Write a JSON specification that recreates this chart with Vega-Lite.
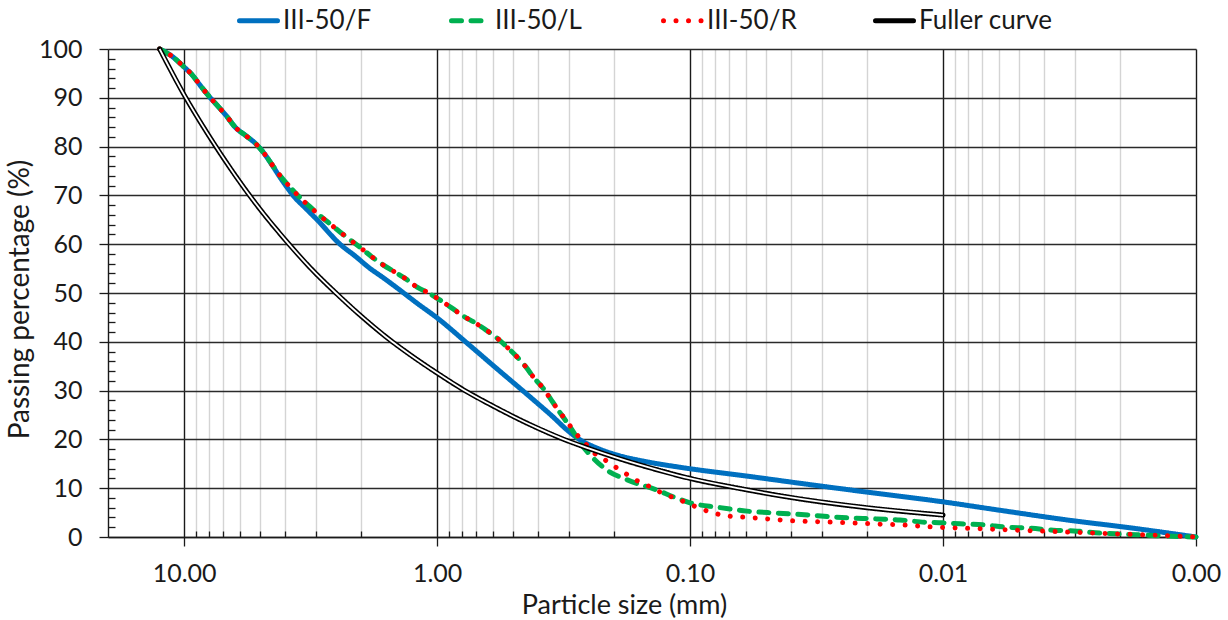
{
  "$schema": "https://vega.github.io/schema/vega-lite/v6.json",
  "width": 1088,
  "height": 488,
  "autosize": {"type": "none"},
  "padding": {"left": 108, "top": 49, "right": 32, "bottom": 83},
  "background": "white",
  "config": {"view": {"stroke": null}, "font": "Lato"},
  "datasets": {
    "curves": [
      {"s": "III-50/F", "d": 12.5, "p": 100}, {"s": "III-50/F", "d": 11.1, "p": 98.4}, {"s": "III-50/F", "d": 10.1, "p": 96.5}, {"s": "III-50/F", "d": 9.3, "p": 94.7}, {"s": "III-50/F", "d": 8.6, "p": 92.4}, {"s": "III-50/F", "d": 8.0, "p": 90.4}, {"s": "III-50/F", "d": 7.3, "p": 88.1}, {"s": "III-50/F", "d": 6.76, "p": 86.1}, {"s": "III-50/F", "d": 6.29, "p": 84.0}, {"s": "III-50/F", "d": 5.69, "p": 82.2}, {"s": "III-50/F", "d": 5.19, "p": 80.5}, {"s": "III-50/F", "d": 4.78, "p": 78.3}, {"s": "III-50/F", "d": 4.45, "p": 75.9}, {"s": "III-50/F", "d": 4.14, "p": 73.4}, {"s": "III-50/F", "d": 3.9, "p": 71.5}, {"s": "III-50/F", "d": 3.71, "p": 70.0}, {"s": "III-50/F", "d": 3.3, "p": 67.3}, {"s": "III-50/F", "d": 2.98, "p": 65.0}, {"s": "III-50/F", "d": 2.42, "p": 60.0}, {"s": "III-50/F", "d": 2.1, "p": 57.5}, {"s": "III-50/F", "d": 1.87, "p": 55.3}, {"s": "III-50/F", "d": 1.62, "p": 53.0}, {"s": "III-50/F", "d": 1.42, "p": 50.8}, {"s": "III-50/F", "d": 1.2, "p": 47.9}, {"s": "III-50/F", "d": 1.0, "p": 44.9}, {"s": "III-50/F", "d": 0.76, "p": 39.7}, {"s": "III-50/F", "d": 0.59, "p": 34.8}, {"s": "III-50/F", "d": 0.429, "p": 28.7}, {"s": "III-50/F", "d": 0.348, "p": 24.6}, {"s": "III-50/F", "d": 0.306, "p": 21.9}, {"s": "III-50/F", "d": 0.272, "p": 19.9}, {"s": "III-50/F", "d": 0.233, "p": 18.2}, {"s": "III-50/F", "d": 0.189, "p": 16.6}, {"s": "III-50/F", "d": 0.148, "p": 15.4}, {"s": "III-50/F", "d": 0.11, "p": 14.3}, {"s": "III-50/F", "d": 0.058, "p": 12.4}, {"s": "III-50/F", "d": 0.0367, "p": 11.0}, {"s": "III-50/F", "d": 0.02, "p": 9.2}, {"s": "III-50/F", "d": 0.01, "p": 7.2}, {"s": "III-50/F", "d": 0.006, "p": 5.5}, {"s": "III-50/F", "d": 0.00324, "p": 3.5}, {"s": "III-50/F", "d": 0.00177, "p": 1.8}, {"s": "III-50/F", "d": 0.001, "p": 0},

      {"s": "III-50/L", "d": 12.5, "p": 100}, {"s": "III-50/L", "d": 11.1, "p": 98.4}, {"s": "III-50/L", "d": 10.1, "p": 96.5}, {"s": "III-50/L", "d": 9.3, "p": 94.7}, {"s": "III-50/L", "d": 8.6, "p": 92.4}, {"s": "III-50/L", "d": 8.0, "p": 90.4}, {"s": "III-50/L", "d": 7.3, "p": 88.1}, {"s": "III-50/L", "d": 6.76, "p": 86.1}, {"s": "III-50/L", "d": 6.29, "p": 84.0}, {"s": "III-50/L", "d": 5.69, "p": 82.2}, {"s": "III-50/L", "d": 5.19, "p": 80.5}, {"s": "III-50/L", "d": 4.78, "p": 78.3}, {"s": "III-50/L", "d": 4.45, "p": 76.0}, {"s": "III-50/L", "d": 4.14, "p": 73.8}, {"s": "III-50/L", "d": 3.81, "p": 71.7}, {"s": "III-50/L", "d": 3.51, "p": 69.7}, {"s": "III-50/L", "d": 3.2, "p": 67.8}, {"s": "III-50/L", "d": 2.93, "p": 66.0}, {"s": "III-50/L", "d": 2.67, "p": 64.3}, {"s": "III-50/L", "d": 2.42, "p": 62.5}, {"s": "III-50/L", "d": 2.21, "p": 60.9}, {"s": "III-50/L", "d": 2.0, "p": 59.2}, {"s": "III-50/L", "d": 1.81, "p": 57.4}, {"s": "III-50/L", "d": 1.63, "p": 55.7}, {"s": "III-50/L", "d": 1.47, "p": 54.3}, {"s": "III-50/L", "d": 1.33, "p": 52.9}, {"s": "III-50/L", "d": 1.2, "p": 51.2}, {"s": "III-50/L", "d": 1.08, "p": 50.0}, {"s": "III-50/L", "d": 0.964, "p": 48.4}, {"s": "III-50/L", "d": 0.873, "p": 46.9}, {"s": "III-50/L", "d": 0.79, "p": 45.3}, {"s": "III-50/L", "d": 0.708, "p": 43.9}, {"s": "III-50/L", "d": 0.64, "p": 42.4}, {"s": "III-50/L", "d": 0.58, "p": 40.8}, {"s": "III-50/L", "d": 0.529, "p": 38.9}, {"s": "III-50/L", "d": 0.483, "p": 36.9}, {"s": "III-50/L", "d": 0.445, "p": 34.8}, {"s": "III-50/L", "d": 0.414, "p": 32.6}, {"s": "III-50/L", "d": 0.381, "p": 30.5}, {"s": "III-50/L", "d": 0.354, "p": 28.1}, {"s": "III-50/L", "d": 0.33, "p": 25.8}, {"s": "III-50/L", "d": 0.306, "p": 23.4}, {"s": "III-50/L", "d": 0.285, "p": 21.0}, {"s": "III-50/L", "d": 0.272, "p": 19.3}, {"s": "III-50/L", "d": 0.248, "p": 16.8}, {"s": "III-50/L", "d": 0.213, "p": 13.7}, {"s": "III-50/L", "d": 0.177, "p": 11.7}, {"s": "III-50/L", "d": 0.135, "p": 9.6}, {"s": "III-50/L", "d": 0.116, "p": 8.2}, {"s": "III-50/L", "d": 0.1, "p": 7.0}, {"s": "III-50/L", "d": 0.078, "p": 6.1}, {"s": "III-50/L", "d": 0.0596, "p": 5.3}, {"s": "III-50/L", "d": 0.0453, "p": 4.9}, {"s": "III-50/L", "d": 0.0336, "p": 4.5}, {"s": "III-50/L", "d": 0.0272, "p": 4.1}, {"s": "III-50/L", "d": 0.0182, "p": 3.7}, {"s": "III-50/L", "d": 0.0148, "p": 3.5}, {"s": "III-50/L", "d": 0.0123, "p": 3.1}, {"s": "III-50/L", "d": 0.01, "p": 2.9}, {"s": "III-50/L", "d": 0.00857, "p": 2.7}, {"s": "III-50/L", "d": 0.00695, "p": 2.5}, {"s": "III-50/L", "d": 0.00559, "p": 2.0}, {"s": "III-50/L", "d": 0.00453, "p": 1.8}, {"s": "III-50/L", "d": 0.00367, "p": 1.4}, {"s": "III-50/L", "d": 0.00295, "p": 1.2}, {"s": "III-50/L", "d": 0.00239, "p": 0.8}, {"s": "III-50/L", "d": 0.002, "p": 0.6}, {"s": "III-50/L", "d": 0.00162, "p": 0.4}, {"s": "III-50/L", "d": 0.0013, "p": 0.2}, {"s": "III-50/L", "d": 0.001, "p": 0},

      {"s": "III-50/R", "d": 12.5, "p": 100}, {"s": "III-50/R", "d": 11.1, "p": 98.4}, {"s": "III-50/R", "d": 10.1, "p": 96.5}, {"s": "III-50/R", "d": 9.3, "p": 94.7}, {"s": "III-50/R", "d": 8.6, "p": 92.4}, {"s": "III-50/R", "d": 8.0, "p": 90.4}, {"s": "III-50/R", "d": 7.3, "p": 88.1}, {"s": "III-50/R", "d": 6.76, "p": 86.1}, {"s": "III-50/R", "d": 6.29, "p": 84.0}, {"s": "III-50/R", "d": 5.69, "p": 82.2}, {"s": "III-50/R", "d": 5.19, "p": 80.5}, {"s": "III-50/R", "d": 4.78, "p": 78.3}, {"s": "III-50/R", "d": 4.45, "p": 76.0}, {"s": "III-50/R", "d": 4.14, "p": 73.8}, {"s": "III-50/R", "d": 3.81, "p": 71.7}, {"s": "III-50/R", "d": 3.51, "p": 69.7}, {"s": "III-50/R", "d": 3.2, "p": 67.8}, {"s": "III-50/R", "d": 2.93, "p": 66.0}, {"s": "III-50/R", "d": 2.67, "p": 64.3}, {"s": "III-50/R", "d": 2.42, "p": 62.5}, {"s": "III-50/R", "d": 2.21, "p": 60.9}, {"s": "III-50/R", "d": 2.0, "p": 59.2}, {"s": "III-50/R", "d": 1.81, "p": 57.4}, {"s": "III-50/R", "d": 1.63, "p": 55.7}, {"s": "III-50/R", "d": 1.47, "p": 54.3}, {"s": "III-50/R", "d": 1.33, "p": 52.9}, {"s": "III-50/R", "d": 1.2, "p": 51.2}, {"s": "III-50/R", "d": 1.08, "p": 50.0}, {"s": "III-50/R", "d": 0.964, "p": 48.4}, {"s": "III-50/R", "d": 0.873, "p": 46.9}, {"s": "III-50/R", "d": 0.79, "p": 45.3}, {"s": "III-50/R", "d": 0.708, "p": 43.9}, {"s": "III-50/R", "d": 0.64, "p": 42.4}, {"s": "III-50/R", "d": 0.58, "p": 40.8}, {"s": "III-50/R", "d": 0.529, "p": 38.9}, {"s": "III-50/R", "d": 0.483, "p": 36.9}, {"s": "III-50/R", "d": 0.445, "p": 34.8}, {"s": "III-50/R", "d": 0.414, "p": 32.6}, {"s": "III-50/R", "d": 0.381, "p": 30.5}, {"s": "III-50/R", "d": 0.354, "p": 28.1}, {"s": "III-50/R", "d": 0.33, "p": 25.8}, {"s": "III-50/R", "d": 0.306, "p": 23.6}, {"s": "III-50/R", "d": 0.285, "p": 21.4}, {"s": "III-50/R", "d": 0.262, "p": 19.4}, {"s": "III-50/R", "d": 0.242, "p": 17.4}, {"s": "III-50/R", "d": 0.217, "p": 15.8}, {"s": "III-50/R", "d": 0.194, "p": 14.1}, {"s": "III-50/R", "d": 0.176, "p": 12.7}, {"s": "III-50/R", "d": 0.159, "p": 11.3}, {"s": "III-50/R", "d": 0.141, "p": 10.1}, {"s": "III-50/R", "d": 0.127, "p": 8.8}, {"s": "III-50/R", "d": 0.112, "p": 7.8}, {"s": "III-50/R", "d": 0.101, "p": 6.8}, {"s": "III-50/R", "d": 0.0897, "p": 5.7}, {"s": "III-50/R", "d": 0.0804, "p": 4.9}, {"s": "III-50/R", "d": 0.0708, "p": 4.3}, {"s": "III-50/R", "d": 0.0623, "p": 4.1}, {"s": "III-50/R", "d": 0.0492, "p": 3.7}, {"s": "III-50/R", "d": 0.0385, "p": 3.3}, {"s": "III-50/R", "d": 0.0298, "p": 3.1}, {"s": "III-50/R", "d": 0.0233, "p": 2.9}, {"s": "III-50/R", "d": 0.0182, "p": 2.66}, {"s": "III-50/R", "d": 0.0143, "p": 2.46}, {"s": "III-50/R", "d": 0.011, "p": 2.05}, {"s": "III-50/R", "d": 0.00865, "p": 1.84}, {"s": "III-50/R", "d": 0.00676, "p": 1.64}, {"s": "III-50/R", "d": 0.00534, "p": 1.43}, {"s": "III-50/R", "d": 0.00414, "p": 1.23}, {"s": "III-50/R", "d": 0.00324, "p": 1.02}, {"s": "III-50/R", "d": 0.00253, "p": 0.82}, {"s": "III-50/R", "d": 0.00198, "p": 0.61}, {"s": "III-50/R", "d": 0.00155, "p": 0.41}, {"s": "III-50/R", "d": 0.0012, "p": 0.2}, {"s": "III-50/R", "d": 0.001, "p": 0},

      {"s": "Fuller curve", "d": 12.5, "p": 100}, {"s": "Fuller curve", "d": 10, "p": 90.6}, {"s": "Fuller curve", "d": 8, "p": 82.3}, {"s": "Fuller curve", "d": 6.3, "p": 74.2}, {"s": "Fuller curve", "d": 5, "p": 67.1}, {"s": "Fuller curve", "d": 4, "p": 61.0}, {"s": "Fuller curve", "d": 3.15, "p": 55.0}, {"s": "Fuller curve", "d": 2.5, "p": 49.9}, {"s": "Fuller curve", "d": 2, "p": 45.3}, {"s": "Fuller curve", "d": 1.6, "p": 41.1}, {"s": "Fuller curve", "d": 1.25, "p": 37.0}, {"s": "Fuller curve", "d": 1, "p": 33.6}, {"s": "Fuller curve", "d": 0.8, "p": 30.4}, {"s": "Fuller curve", "d": 0.63, "p": 27.4}, {"s": "Fuller curve", "d": 0.5, "p": 24.7}, {"s": "Fuller curve", "d": 0.4, "p": 22.3}, {"s": "Fuller curve", "d": 0.315, "p": 20.0}, {"s": "Fuller curve", "d": 0.25, "p": 18.1}, {"s": "Fuller curve", "d": 0.2, "p": 16.4}, {"s": "Fuller curve", "d": 0.125, "p": 13.3}, {"s": "Fuller curve", "d": 0.1, "p": 12.0}, {"s": "Fuller curve", "d": 0.063, "p": 9.9}, {"s": "Fuller curve", "d": 0.04, "p": 8.1}, {"s": "Fuller curve", "d": 0.02, "p": 6.0}, {"s": "Fuller curve", "d": 0.01, "p": 4.5}
    ]
  },
  "data": {"name": "curves"},
  "encoding": {
    "x": {
      "field": "d", "type": "quantitative",
      "scale": {"type": "log", "domain": [0.001, 20], "reverse": true, "nice": false},
      "axis": {
        "values": [10,9,8,7,6,5,4,3,2,1,0.9,0.8,0.7,0.6,0.5,0.4,0.3,0.2,0.1,0.09,0.08,0.07,0.06,0.05,0.04,0.03,0.02,0.01,0.009,0.008,0.007,0.006,0.005,0.004,0.003,0.002,0.001],
        "labelExpr": "abs(log(datum.value)/LN10 - round(log(datum.value)/LN10)) < 0.01 ? format(datum.value, '.2f') : ''",
        "labelOverlap": false, "labelFlush": false,
        "grid": true,
        "gridColor": {"condition": {"test": "abs(log(datum.value)/LN10 - round(log(datum.value)/LN10)) < 0.01", "value": "#1a1a1a"}, "value": "#d4d4d4"},
        "gridWidth": 1.4,
        "tickSize": {"condition": {"test": "abs(log(datum.value)/LN10 - round(log(datum.value)/LN10)) < 0.01", "value": 9}, "value": -6},
        "tickColor": "#1a1a1a", "tickWidth": 1.3,
        "domainColor": "#1a1a1a", "domainWidth": 1.4,
        "labelFont": "Lato", "labelFontSize": 25, "labelColor": "#1a1a1a", "labelPadding": 15,
        "title": "Particle size (mm)", "titleFont": "Lato", "titleFontSize": 27, "titleFontWeight": "normal", "titleColor": "#1a1a1a", "titlePadding": 6,
        "titleX": 516
      }
    },
    "y": {
      "field": "p", "type": "quantitative",
      "scale": {"domain": [0, 100], "nice": false},
      "axis": {
        "values": [0,2,4,6,8,10,12,14,16,18,20,22,24,26,28,30,32,34,36,38,40,42,44,46,48,50,52,54,56,58,60,62,64,66,68,70,72,74,76,78,80,82,84,86,88,90,92,94,96,98,100],
        "labelExpr": "datum.value % 10 == 0 ? datum.label : ''",
        "labelOverlap": false, "labelFlush": false,
        "grid": true,
        "gridOpacity": {"condition": {"test": "datum.value % 10 == 0", "value": 1}, "value": 0},
        "gridColor": "#2a2a2a", "gridWidth": 1.4,
        "tickSize": {"condition": {"test": "datum.value % 10 == 0", "value": 9}, "value": -7},
        "tickColor": "#1a1a1a", "tickWidth": 1.3,
        "domainColor": "#1a1a1a", "domainWidth": 1.4,
        "labelFont": "Lato", "labelFontSize": 25, "labelColor": "#1a1a1a", "labelPadding": 17,
        "title": "Passing percentage (%)", "titleFont": "Lato", "titleFontSize": 28, "titleFontWeight": "normal", "titleColor": "#1a1a1a", "titlePadding": 4,
        "titleY": 250
      }
    }
  },
  "layer": [
    {
      "mark": {"type": "line", "strokeCap": "round", "strokeJoin": "round", "interpolate": "monotone"},
      "encoding": {
        "color": {
          "field": "s", "type": "nominal",
          "scale": {"domain": ["III-50/F", "III-50/L", "III-50/R", "Fuller curve"], "range": ["#0070C0", "#00B050", "#FF0000", "#000000"]},
          "legend": {
            "orient": "none", "legendX": 129, "legendY": -50, "direction": "horizontal", "columns": 4, "gridAlign": "all",
            "title": null, "symbolType": "stroke", "symbolSize": 1444, "labelFont": "Lato", "labelFontSize": 26, "labelColor": "#1a1a1a",
            "labelOffset": 3, "columnPadding": 24, "labelLimit": 300,
            "encode": {"symbols": {"update": {"strokeCap": {"value": "round"}}}}
          }
        },
        "strokeDash": {
          "field": "s", "type": "nominal",
          "scale": {"domain": ["III-50/F", "III-50/L", "III-50/R", "Fuller curve"], "range": [[1, 0], [10, 9.5], [0.01, 12.5], [1, 0]]}
        },
        "strokeWidth": {
          "field": "s", "type": "nominal",
          "scale": {"domain": ["III-50/F", "III-50/L", "III-50/R", "Fuller curve"], "range": [5, 5, 7, 5]}
        }
      }
    },
    {
      "transform": [{"filter": "datum.s == 'Fuller curve'"}],
      "mark": {"type": "line", "color": "white", "strokeWidth": 1.8, "strokeCap": "butt", "interpolate": "monotone"},
      "encoding": {}
    }
  ]
}
